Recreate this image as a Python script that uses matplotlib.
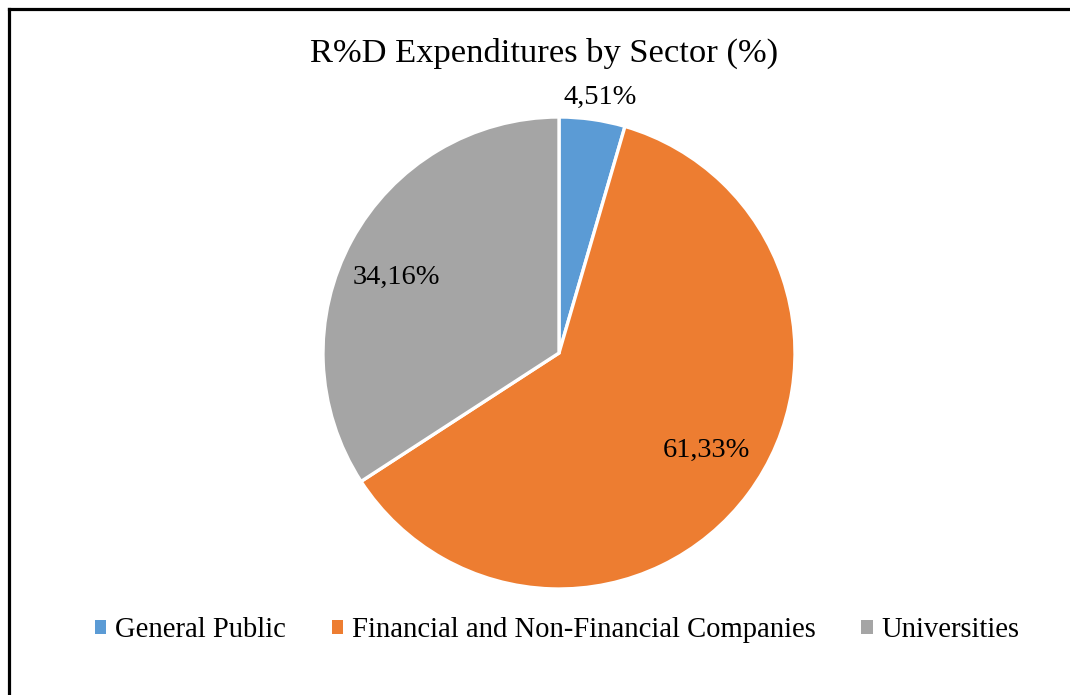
import matplotlib
matplotlib.use("Agg")
import matplotlib.pyplot as plt
from matplotlib.lines import Line2D
from matplotlib.patches import Patch

plt.rcParams['font.family'] = ['Liberation Serif', 'DejaVu Serif']

# Data
categories = ["General Public", "Financial and Non-Financial Companies", "Universities"]
shares = [4.51, 61.33, 34.16]
value_labels = ["4,51%", "61,33%", "34,16%"]
colors = ["#5B9BD5", "#ED7D31", "#A5A5A5"]
title = "R%D Expenditures by Sector (%)"

W, H = 1070, 695
fig = plt.figure(figsize=(W / 100, H / 100), dpi=100)

# Frame lines (top and left edge of the chart box)
fig.add_artist(Line2D([8.5 / W, 1.0], [1 - 8.5 / H, 1 - 8.5 / H], color="black", lw=2.3,
                      transform=fig.transFigure))
fig.add_artist(Line2D([8.5 / W, 8.5 / W], [1 - 8.5 / H, 0.0], color="black", lw=2.3,
                      transform=fig.transFigure))

# Pie axes: center (559, 353) px, radius 236 px
cx, cy, r = 559, 353, 236
ax = fig.add_axes([(cx - r) / W, (H - cy - r) / H, 2 * r / W, 2 * r / H])
wedges, _ = ax.pie(shares, colors=colors, startangle=90, counterclock=False,
                   radius=1.0,
                   wedgeprops=dict(edgecolor="white", linewidth=2.4))
ax.set_xlim(-1, 1)
ax.set_ylim(-1, 1)
ax.set_aspect("equal")
ax.axis("off")

# Data label positions (data coordinates of the pie axes)
label_pos = [(0.174, 1.085), (0.623, -0.411), (-0.691, 0.322)]
for txt, (lx, ly) in zip(value_labels, label_pos):
    ax.text(lx, ly, txt, ha="center", va="center", fontsize=20.5, color="black",
            clip_on=False)

fig.text(544 / W, 1 - 53 / H, title, ha="center", va="center", fontsize=24.8, color="black")

handles = [Patch(facecolor=c, edgecolor="none") for c in colors]
fig.legend(handles, categories, loc="center", bbox_to_anchor=(557 / W, 1 - 630 / H),
           ncol=3, frameon=False, fontsize=20.6, handlelength=0.4, handleheight=0.4,
           handletextpad=0.3, columnspacing=1.6)

fig.savefig("out.png", dpi=100, facecolor="white")
